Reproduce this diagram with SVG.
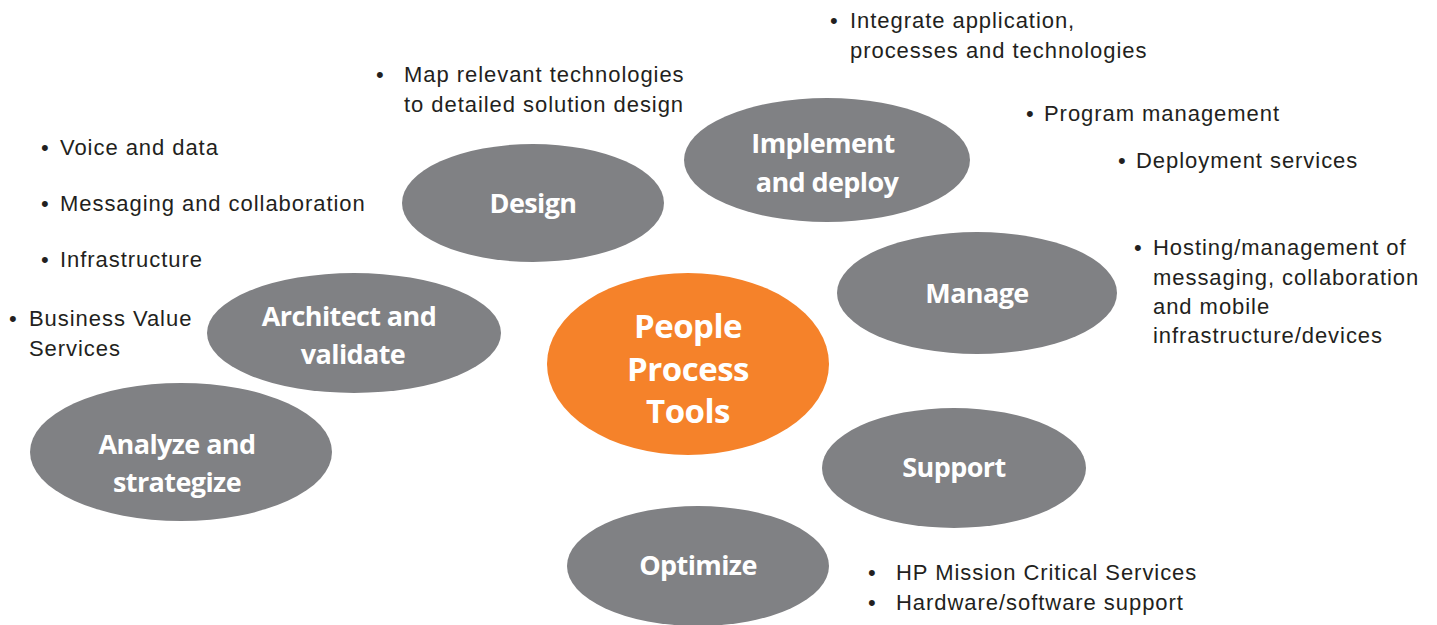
<svg xmlns="http://www.w3.org/2000/svg" width="1437" height="625" viewBox="0 0 1437 625">
<style>
.bg{fill:#ffffff}
.node{fill:#808184}
.core{fill:#f5822a}
.lbl{font-family:"Open Sans","Liberation Sans",sans-serif;font-weight:700;font-size:27px;fill:#ffffff;text-anchor:middle;letter-spacing:-0.6px}
.lblc{font-family:"Open Sans","Liberation Sans",sans-serif;font-weight:700;font-size:33px;fill:#ffffff;text-anchor:middle;letter-spacing:-0.5px}
.txt{font-family:"Liberation Sans","Open Sans",sans-serif;font-size:22px;fill:#231f20;letter-spacing:0.95px}
</style>
<rect class="bg" x="0" y="0" width="1437" height="625"/>
<g id="connectors"></g>
<g id="node-core">
<ellipse class="core" cx="688" cy="364" rx="141" ry="91"/>
<text class="lblc" x="688" y="338">People</text>
<text class="lblc" x="688" y="381">Process</text>
<text class="lblc" x="688" y="423">Tools</text>
</g>
<g id="node-design">
<ellipse class="node" cx="533" cy="203" rx="131" ry="59"/>
<text class="lbl" x="533" y="213">Design</text>
</g>
<g id="node-implement">
<ellipse class="node" cx="827" cy="160" rx="143" ry="62"/>
<text class="lbl" x="823" y="153">Implement</text>
<text class="lbl" x="827" y="192">and deploy</text>
</g>
<g id="node-manage">
<ellipse class="node" cx="977" cy="293" rx="140" ry="61"/>
<text class="lbl" x="977" y="303">Manage</text>
</g>
<g id="node-architect">
<ellipse class="node" cx="354" cy="333" rx="147" ry="60"/>
<text class="lbl" x="349" y="326">Architect and</text>
<text class="lbl" x="353" y="364">validate</text>
</g>
<g id="node-analyze">
<ellipse class="node" cx="181" cy="452" rx="151" ry="69"/>
<text class="lbl" x="177" y="454">Analyze and</text>
<text class="lbl" x="177" y="492">strategize</text>
</g>
<g id="node-support">
<ellipse class="node" cx="954" cy="468" rx="132" ry="60"/>
<text class="lbl" x="954" y="477">Support</text>
</g>
<g id="node-optimize">
<ellipse class="node" cx="698" cy="566" rx="131" ry="60"/>
<text class="lbl" x="698" y="575">Optimize</text>
</g>
<g id="notes">
<text class="txt" x="376" y="82">•</text>
<text class="txt" x="404" y="82">Map relevant technologies</text>
<text class="txt" x="404" y="112">to detailed solution design</text>
<text class="txt" x="830" y="28">•</text>
<text class="txt" x="850" y="28">Integrate application,</text>
<text class="txt" x="850" y="58">processes and technologies</text>
<text class="txt" x="1026" y="121">•</text>
<text class="txt" x="1044" y="121">Program management</text>
<text class="txt" x="1118" y="168">•</text>
<text class="txt" x="1136" y="168">Deployment services</text>
<text class="txt" x="1134" y="255">•</text>
<text class="txt" x="1153" y="255">Hosting/management of</text>
<text class="txt" x="1153" y="285">messaging, collaboration</text>
<text class="txt" x="1153" y="314">and mobile</text>
<text class="txt" x="1153" y="343">infrastructure/devices</text>
<text class="txt" x="41" y="155">•</text>
<text class="txt" x="60" y="155">Voice and data</text>
<text class="txt" x="41" y="211">•</text>
<text class="txt" x="60" y="211">Messaging and collaboration</text>
<text class="txt" x="41" y="267">•</text>
<text class="txt" x="60" y="267">Infrastructure</text>
<text class="txt" x="9" y="326">•</text>
<text class="txt" x="29" y="326">Business Value</text>
<text class="txt" x="29" y="356">Services</text>
<text class="txt" x="868" y="580">•</text>
<text class="txt" x="896" y="580">HP Mission Critical Services</text>
<text class="txt" x="868" y="610">•</text>
<text class="txt" x="896" y="610">Hardware/software support</text>
</g>
</svg>
